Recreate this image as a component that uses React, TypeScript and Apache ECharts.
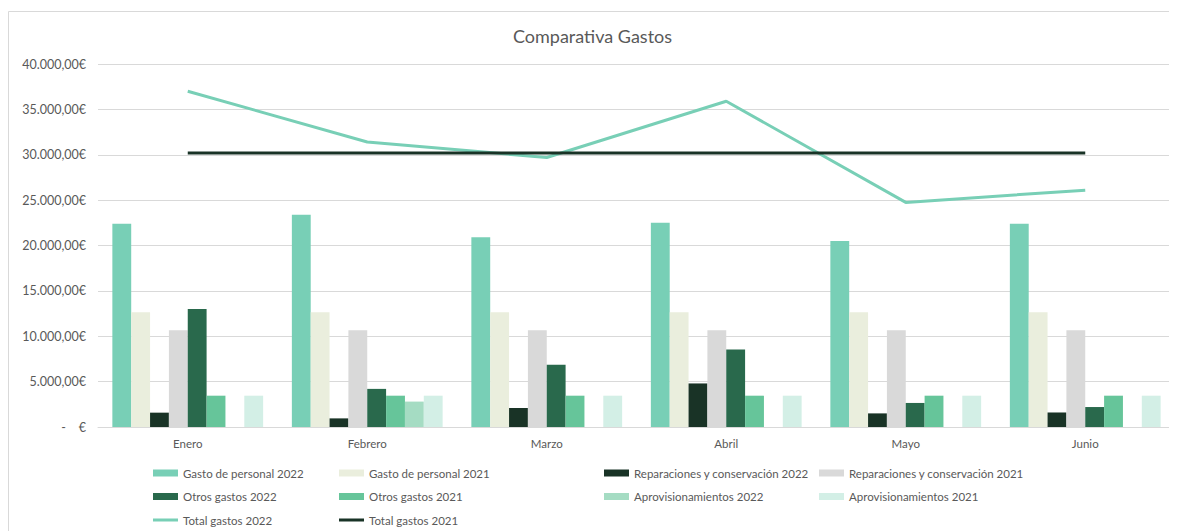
import React, { useEffect, useRef } from "react";
import * as echarts from "echarts";

const months = ["Enero", "Febrero", "Marzo", "Abril", "Mayo", "Junio"];
const personal2022 = [22400, 23400, 20900, 22500, 20500, 22400];
const personal2021 = [12650, 12650, 12650, 12650, 12650, 12650];
const reparaciones2022 = [1580, 950, 2100, 4800, 1500, 1600];
const reparaciones2021 = [10650, 10650, 10650, 10650, 10650, 10650];
const otros2022 = [13000, 4200, 6850, 8550, 2650, 2200];
const otros2021 = [3450, 3450, 3450, 3450, 3450, 3450];
const aprov2022 = [0, 2800, 0, 0, 0, 0];
const aprov2021 = [3450, 3450, 3450, 3450, 3450, 3450];
const total2022 = [37000, 31400, 29700, 35900, 24750, 26100];
const total2021 = [30200, 30200, 30200, 30200, 30200, 30200];

const FONT = "Lato";
const TXT = "#595959";
const LINE_ICON = "path://M0,0h0.01v0.01h-0.01z M0,2 H25 V5 H0 Z M24.99,6.99h0.01v0.01h-0.01z";

function fmt(v: number): string {
  if (v === 0) return "-    €";
  const s = Math.round(v).toString().replace(/\B(?=(\d{3})+(?!\d))/g, ".");
  return s + ",00€";
}

export default function App() {
  const ref = useRef<HTMLDivElement>(null);
  useEffect(() => {
    if (!ref.current) return;
    const chart = echarts.init(ref.current, null, { renderer: "svg" });
    const bar = (name: string, data: number[], color: string) => ({
      name,
      type: "bar",
      data,
      barGap: "0%",
      barCategoryGap: "16%",
      itemStyle: { color },
    });
    const line = (name: string, data: number[], color: string) => ({
      name,
      type: "line",
      data,
      symbol: "none",
      lineStyle: { color, width: 3 },
      itemStyle: { color },
    });
    const legendBase = {
      orient: "vertical",
      top: 458,
      padding: 0,
      height: 70,
      itemWidth: 25,
      itemHeight: 7,
      itemGap: 9.5,
      textStyle: { color: TXT, fontFamily: FONT, fontSize: 11.5, lineHeight: 14 },
    };
    chart.setOption({
      animation: false,
      title: {
        text: "Comparativa Gastos",
        left: "center",
        top: 14,
        textStyle: { color: TXT, fontFamily: FONT, fontSize: 18, fontWeight: "normal" },
      },
      graphic: [
        {
          type: "rect",
          shape: { x: 0.5, y: 3.5, width: 1300, height: 700 },
          style: { fill: "none", stroke: "#D9D9D9", lineWidth: 1 },
          silent: true,
        },
      ],
      grid: { left: 90, right: 2, top: 56, bottom: 104, containLabel: false },
      xAxis: {
        type: "category",
        data: months,
        axisLine: { lineStyle: { color: "#D9D9D9" } },
        axisTick: { show: false },
        axisLabel: { color: TXT, fontFamily: FONT, fontSize: 11.5, margin: 10 },
      },
      yAxis: {
        type: "value",
        min: 0,
        max: 40000,
        interval: 5000,
        axisLine: { show: false },
        axisTick: { show: false },
        splitLine: { lineStyle: { color: "#D9D9D9" } },
        axisLabel: { color: TXT, fontFamily: FONT, fontSize: 12.5, margin: 12, formatter: fmt },
      },
      legend: [
        { ...legendBase, left: 145, data: [{ name: "Gasto de personal 2022", icon: "rect" }, { name: "Otros gastos 2022", icon: "rect" }, { name: "Total gastos 2022", icon: LINE_ICON }] },
        { ...legendBase, left: 331, data: [{ name: "Gasto de personal 2021", icon: "rect" }, { name: "Otros gastos 2021", icon: "rect" }, { name: "Total gastos 2021", icon: LINE_ICON }] },
        { ...legendBase, left: 596, data: [{ name: "Reparaciones y conservación 2022", icon: "rect" }, { name: "Aprovisionamientos 2022", icon: "rect" }] },
        { ...legendBase, left: 811, data: [{ name: "Reparaciones y conservación 2021", icon: "rect" }, { name: "Aprovisionamientos 2021", icon: "rect" }] },
      ],
      series: [
        bar("Gasto de personal 2022", personal2022, "#78CFB6"),
        bar("Gasto de personal 2021", personal2021, "#EAEEDD"),
        bar("Reparaciones y conservación 2022", reparaciones2022, "#193326"),
        bar("Reparaciones y conservación 2021", reparaciones2021, "#D9D9D9"),
        bar("Otros gastos 2022", otros2022, "#29694C"),
        bar("Otros gastos 2021", otros2021, "#66C59A"),
        bar("Aprovisionamientos 2022", aprov2022, "#A5DCC3"),
        bar("Aprovisionamientos 2021", aprov2021, "#D3EFE6"),
        line("Total gastos 2022", total2022, "#78CFB6"),
        line("Total gastos 2021", total2021, "#193326"),
      ],
    });
    return () => chart.dispose();
  }, []);
  return <div ref={ref} style={{ width: 1169, height: 523 }} />;
}
